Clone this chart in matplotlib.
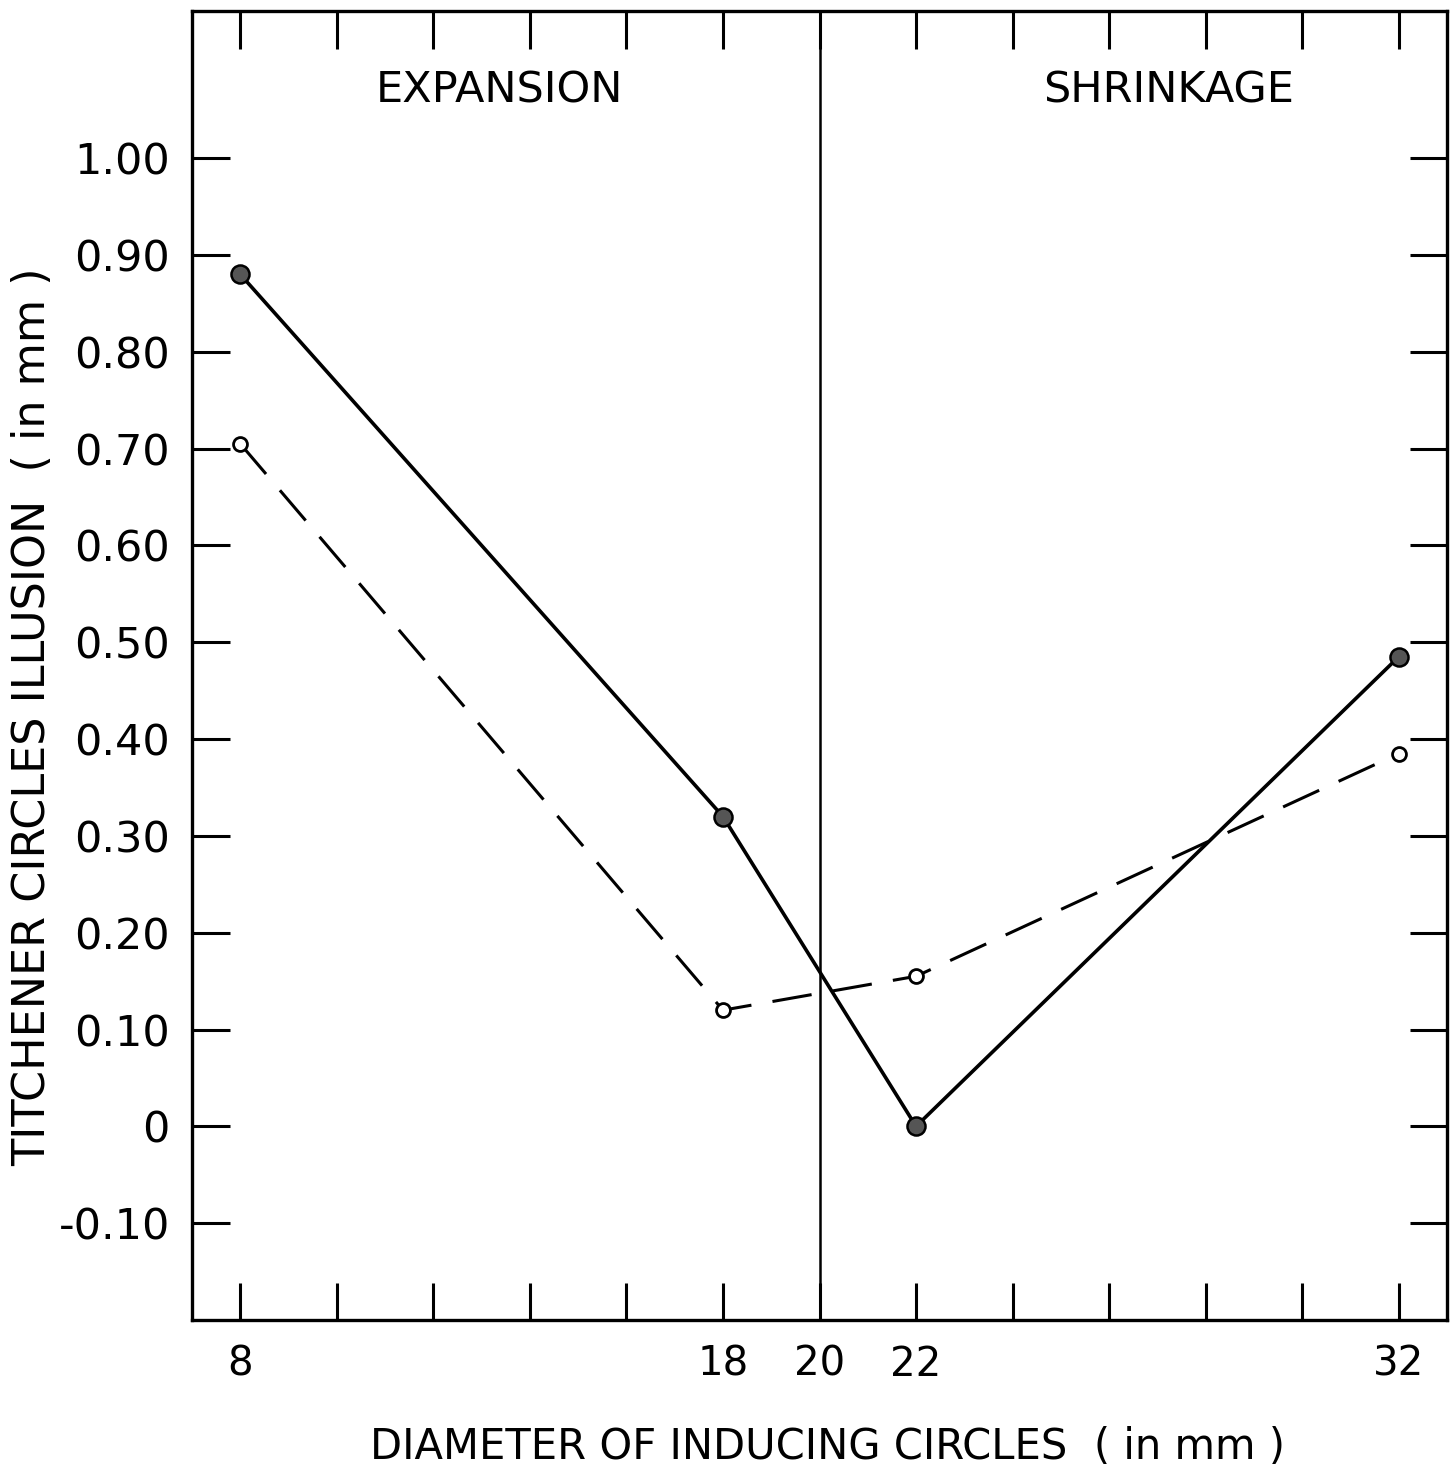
import matplotlib
matplotlib.use("Agg")
import matplotlib.pyplot as plt

# Data
diam = [8, 18, 22, 32]
solid_vals = [0.88, 0.32, 0.0, 0.485]
dashed_vals = [0.705, 0.12, 0.155, 0.385]
xtick_pos = list(range(8, 33, 2))
xtick_labels = ["8", "", "", "", "", "18", "20", "22", "", "", "", "", "32"]
ytick_pos = [-0.1, 0.0, 0.1, 0.2, 0.3, 0.4, 0.5, 0.6, 0.7, 0.8, 0.9, 1.0]
ytick_labels = ["-0.10", "0", "0.10", "0.20", "0.30", "0.40", "0.50", "0.60", "0.70", "0.80", "0.90", "1.00"]

plt.rcParams['font.family'] = ['DejaVu Sans']
fig = plt.figure(figsize=(14.52, 14.70), dpi=100)
ax = fig.add_axes([192/1452, 150/1470, 1255/1452, 1309/1470])

ax.plot(diam, dashed_vals, color='black', lw=2.2, ls=(0, (13, 7)), marker='o',
        ms=10, mfc='white', mec='black', mew=2.0, zorder=3)
ax.plot(diam, solid_vals, color='black', lw=2.6, marker='o',
        ms=13, mfc='#555555', mec='black', mew=1.8, zorder=4)
ax.axvline(20, color='black', lw=1.8)

ax.set_xlim(7, 33)
ax.set_ylim(-0.2, 1.152)
ax.set_xticks(xtick_pos)
ax.set_xticklabels(xtick_labels, fontsize=29)
ax.set_yticks(ytick_pos)
ax.set_yticklabels(ytick_labels, fontsize=31)
ax.tick_params(direction='in', length=27, width=2.2, top=True, right=True, pad=16)
ax.tick_params(axis='x', pad=18)
for s in ax.spines.values():
    s.set_linewidth(2.4)

ax.text(13.36, 1.07, "EXPANSION", fontsize=31, ha='center', va='center')
ax.text(27.24, 1.07, "SHRINKAGE", fontsize=31, ha='center', va='center')

ax.set_xlabel("DIAMETER OF INDUCING CIRCLES  ( in mm )", fontsize=30)
ax.xaxis.set_label_coords((828 - 192) / 1255, -(1426 - 1320) / 1309)
ax.set_ylabel("TITCHENER CIRCLES ILLUSION  ( in mm )", fontsize=32)
ax.yaxis.set_label_coords(-(192 - 54) / 1255, (1320 - 717) / 1309)

fig.savefig("out.png", dpi=100)
